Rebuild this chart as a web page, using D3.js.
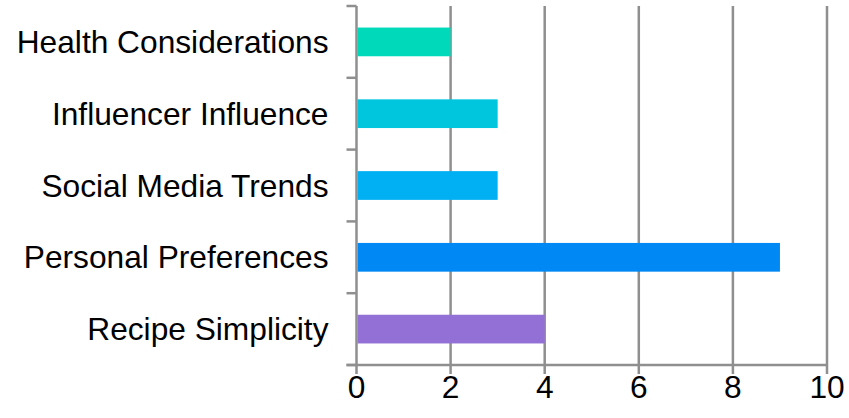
<!DOCTYPE html>
<html>
<head>
<meta charset="utf-8">
<script src="https://cdn.jsdelivr.net/npm/d3@7"></script>
<style>
html,body{margin:0;padding:0;background:#fff;}
svg{display:block;}
text{font-family:"Liberation Sans",Arial,sans-serif;fill:#000;}
</style>
</head>
<body>
<svg id="chart" width="849" height="418"></svg>
<script>
const categories = ["Health Considerations","Influencer Influence","Social Media Trends","Personal Preferences","Recipe Simplicity"];
const values = [2,3,3,9,4];
const colors = ["#00DABB","#00C6DD","#00B0F2","#0088F5","#9370D6"];
const xTicks = [0,2,4,6,8,10];

(function(){
const svg = d3.select("#chart");
const mLeft = 356.5, mRight = 827, mTop = 6, mBottom = 365;
const axisColor = "#8f8f8f";
const fontSize = 31.7;

const x = d3.scaleLinear().domain([0,10]).range([mLeft,mRight]);
const y = d3.scaleBand().domain(categories).range([mTop,mBottom]).paddingInner(0.6).paddingOuter(0.3);

svg.append("g").selectAll("line").data(xTicks.filter(d=>d>0)).join("line")
  .attr("x1",d=>x(d)).attr("x2",d=>x(d))
  .attr("y1",mTop).attr("y2",mBottom+9)
  .attr("stroke",axisColor).attr("stroke-width",2.5);

svg.append("g").selectAll("rect").data(values).join("rect")
  .attr("x",x(0)+1)
  .attr("y",(d,i)=>y(categories[i]))
  .attr("height",y.bandwidth())
  .attr("width",d=>x(d)-x(0)-1)
  .attr("fill",(d,i)=>colors[i]);

svg.append("line").attr("x1",mLeft).attr("x2",mLeft).attr("y1",mTop).attr("y2",mBottom+9)
  .attr("stroke",axisColor).attr("stroke-width",2.5);
svg.append("line").attr("x1",mLeft-10).attr("x2",mRight+1).attr("y1",mBottom).attr("y2",mBottom)
  .attr("stroke",axisColor).attr("stroke-width",2.5);

const boundaries = d3.range(categories.length+1).map(i=>mTop+i*(mBottom-mTop)/categories.length);
svg.append("g").selectAll("line").data(boundaries).join("line")
  .attr("x1",mLeft-10).attr("x2",mLeft).attr("y1",d=>d).attr("y2",d=>d)
  .attr("stroke",axisColor).attr("stroke-width",2.5);

svg.append("g").selectAll("text").data(categories).join("text")
  .attr("x",mLeft-28)
  .attr("y",d=>y(d)+y.bandwidth()/2)
  .attr("dy","0.35em")
  .attr("text-anchor","end")
  .attr("font-size",fontSize)
  .text(d=>d);

svg.append("g").selectAll("text").data(xTicks).join("text")
  .attr("x",d=>x(d))
  .attr("y",mBottom+33)
  .attr("text-anchor","middle")
  .attr("font-size",fontSize)
  .text(d=>d);
})();
</script>
</body>
</html>
